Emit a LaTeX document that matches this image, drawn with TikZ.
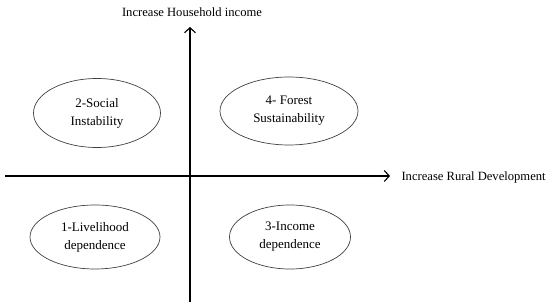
\documentclass[tikz,border=0pt]{standalone}
\usepackage{fontspec}
\setmainfont{Liberation Serif}
\usetikzlibrary{arrows.meta,positioning,shapes.geometric}

\begin{document}
\begin{tikzpicture}[
  x=1pt, y=-1pt,
  every node/.style={font=\fontsize{13}{18}\selectfont},
  quad/.style={draw=black!75, line width=0.7pt, ellipse, inner sep=0pt, align=center},
  axis/.style={line width=1.1pt, -{Straight Barb[length=5pt,width=11pt,line width=1.1pt]}},
  lbl/.style={font=\fontsize{12.6}{14}\selectfont},
]
  \useasboundingbox (0,0) rectangle (550,307);

  % axes
  \coordinate (xstart) at (5,176);
  \coordinate (xend)   at (390,176);
  \coordinate (ystart) at (190,302);
  \coordinate (yend)   at (190,27);
  \draw[axis] (xstart) -- (xend);
  \draw[axis] (ystart) -- (yend);

  \node[lbl, anchor=west] (xlab) at (398,177) {Increase Rural Development};
  \node[lbl] (ylab) at (192,12) {Increase Household income};

  % quadrants
  \node[quad, minimum width=127pt, minimum height=69pt] (social) at (97,113) {2-Social\\Instability};
  \node[quad, minimum width=138pt, minimum height=68pt] (forest) at (289,111) {4- Forest\\Sustainability};
  \node[quad, minimum width=130pt, minimum height=64pt] (liveli) at (95,237) {1-Livelihood\\dependence};
  \node[quad, minimum width=121pt, minimum height=64pt] (income) at (290,237) {3-Income\\dependence};
\end{tikzpicture}
\end{document}
